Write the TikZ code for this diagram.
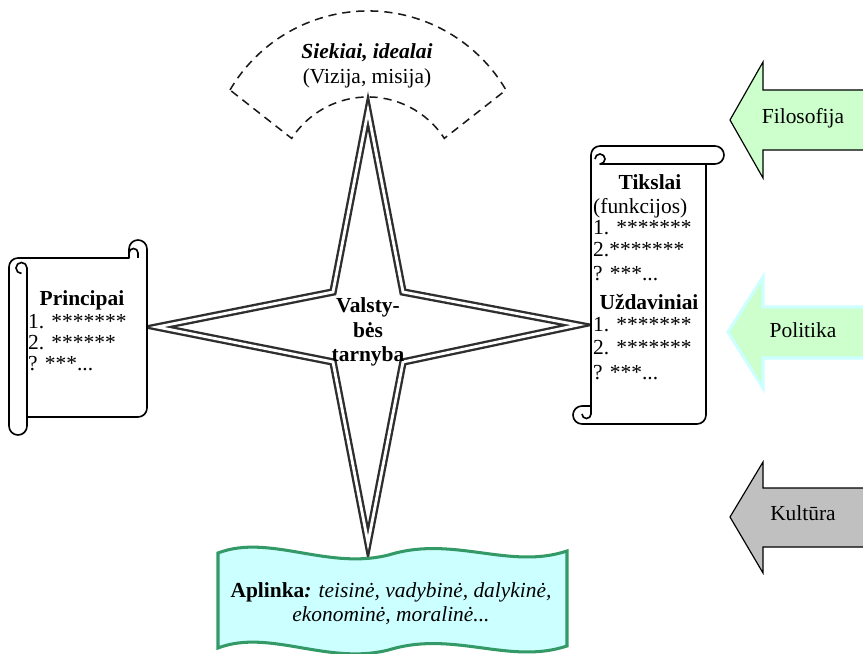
\documentclass[tikz,border=0pt]{standalone}
\usepackage{fontspec}
\setmainfont{Liberation Serif}
\definecolor{ringgreen}{HTML}{339966}
\definecolor{palecyan}{HTML}{CCFFFF}
\definecolor{palegreen}{HTML}{CCFFCC}
\definecolor{silverish}{HTML}{C0C0C0}
\begin{document}
\begin{tikzpicture}[x=0.03cm, y=-0.03cm,
  font=\fontsize{18.3}{22}\selectfont,
  txt/.style={inner sep=0pt, anchor=base},
  ltxt/.style={inner sep=0pt, anchor=base west},
  boldtxt/.style={txt, font=\fontsize{18.3}{22}\selectfont\bfseries},
  scrollbody/.style={fill=white, draw=black, line width=1.4pt, line join=round},
  scrollline/.style={draw=black, line width=1.4pt, line join=round},
  starshape/.style={fill=white, draw=black!82, line width=2pt, double=white, double distance=2.4pt},
  vision/.style={draw=black!90, line width=1.3pt, dash pattern=on 7pt off 5pt},
  bigarrow/.style={line width=1pt, draw=black},
  waveband/.style={fill=palecyan, draw=ringgreen, line width=2.6pt}]

\useasboundingbox (0,0) rectangle (863,654);

% ---- dashed vision sector ----
\draw[vision] (230,90) arc[start angle=210.4, end angle=329.6, radius=160]
  -- (444.3,138.4) arc[start angle=327, end angle=213, radius=91] -- cycle;
\node[txt] (siek) at (367,59) {\textbf{\textit{Siekiai, idealai}}};
\node[txt] (viz) at (367,84) {(Vizija, misija)};

% ---- four-pointed star ----
\draw[starshape] (368,111) -- (403,292) -- (578,325) -- (403,362)
  -- (368,543) -- (333,362) -- (157,327) -- (333,292) -- cycle;
\node[boldtxt] (v1) at (368,313) {Valsty-};
\node[boldtxt] (v2) at (368,338) {bės};
\node[boldtxt] (v3) at (368,362) {tarnyba};

% ---- left scroll ----
\draw[scrollbody] (9,267) arc[start angle=180, end angle=270, radius=9]
  -- (129,258) -- (129,249) arc[start angle=180, end angle=360, radius=9]
  -- (147,408) arc[start angle=0, end angle=90, radius=9]
  -- (27,417) -- (27,426) arc[start angle=0, end angle=180, radius=9]
  -- cycle;
\draw[scrollline] (27,417) -- (27,268) arc[start angle=0, end angle=-270, radius=5.5];
\draw[scrollline] (138,258) -- (138,253) arc[start angle=0, end angle=-180, radius=4.5];
\node[boldtxt] (pr) at (82,306) {Principai};
\node[ltxt] (p1) at (28,329) {1. *******};
\node[ltxt] (p2) at (28,350) {2. ******};
\node[ltxt] (p3) at (28,371) {? ***...};

% ---- right scroll ----
\draw[scrollbody] (591,155) arc[start angle=180, end angle=270, radius=9]
  -- (715,146) arc[start angle=270, end angle=450, radius=9]
  -- (706,164) -- (706,415) arc[start angle=0, end angle=90, radius=9]
  -- (582,424) arc[start angle=90, end angle=270, radius=9]
  -- (591,406) -- cycle;
\draw[scrollline] (706,164) -- (600,164) arc[start angle=90, end angle=-180, radius=5];
\draw[scrollline] (591,406) -- (591,414) arc[start angle=0, end angle=180, radius=4.5];
\node[boldtxt] (tk) at (650,190) {Tikslai};
\node[ltxt] (f0) at (593,214) {(funkcijos)};
\node[ltxt] (f1) at (593,235) {1. *******};
\node[ltxt] (f2) at (593,257) {2.*******};
\node[ltxt] (f3) at (593,281) {? ***...};
\node[boldtxt] (uz) at (649,310) {Uždaviniai};
\node[ltxt] (u1) at (593,332) {1. *******};
\node[ltxt] (u2) at (593,355) {2. *******};
\node[ltxt] (u3) at (593,380) {? ***...};

% ---- wavy environment band ----
\draw[waveband] (218,553) .. controls (270,533) and (330,572) .. (392,554)
  .. controls (455,536) and (510,570) .. (567,551)
  -- (567,646) .. controls (510,665) and (455,631) .. (392,649)
  .. controls (330,667) and (270,628) .. (218,648) -- cycle;
\node[txt] (ap1) at (391,597) {\textbf{Aplinka\textit{:}} \textit{teisinė, vadybinė, dalykinė,}};
\node[txt] (ap2) at (391,621) {\textit{ekonominė, moralinė...}};

% ---- influence arrows ----
\filldraw[bigarrow, fill=palegreen] (880,90) -- (763,90) -- (763,62) -- (730,120)
  -- (763,178) -- (763,150) -- (880,150);
\node[txt] (fil) at (803,124) {Filosofija};

\filldraw[bigarrow, fill=palegreen, draw=palecyan, line width=2.6pt]
  (880,307) -- (763,307) -- (763,277) -- (728,332)
  -- (763,388) -- (763,358) -- (880,358);
\node[txt] (pol) at (803,338) {Politika};

\filldraw[bigarrow, fill=silverish] (880,488) -- (763,488) -- (763,462) -- (730,517)
  -- (763,573) -- (763,547) -- (880,547);
\node[txt] (kul) at (803,520) {Kultūra};
\end{tikzpicture}
\end{document}
